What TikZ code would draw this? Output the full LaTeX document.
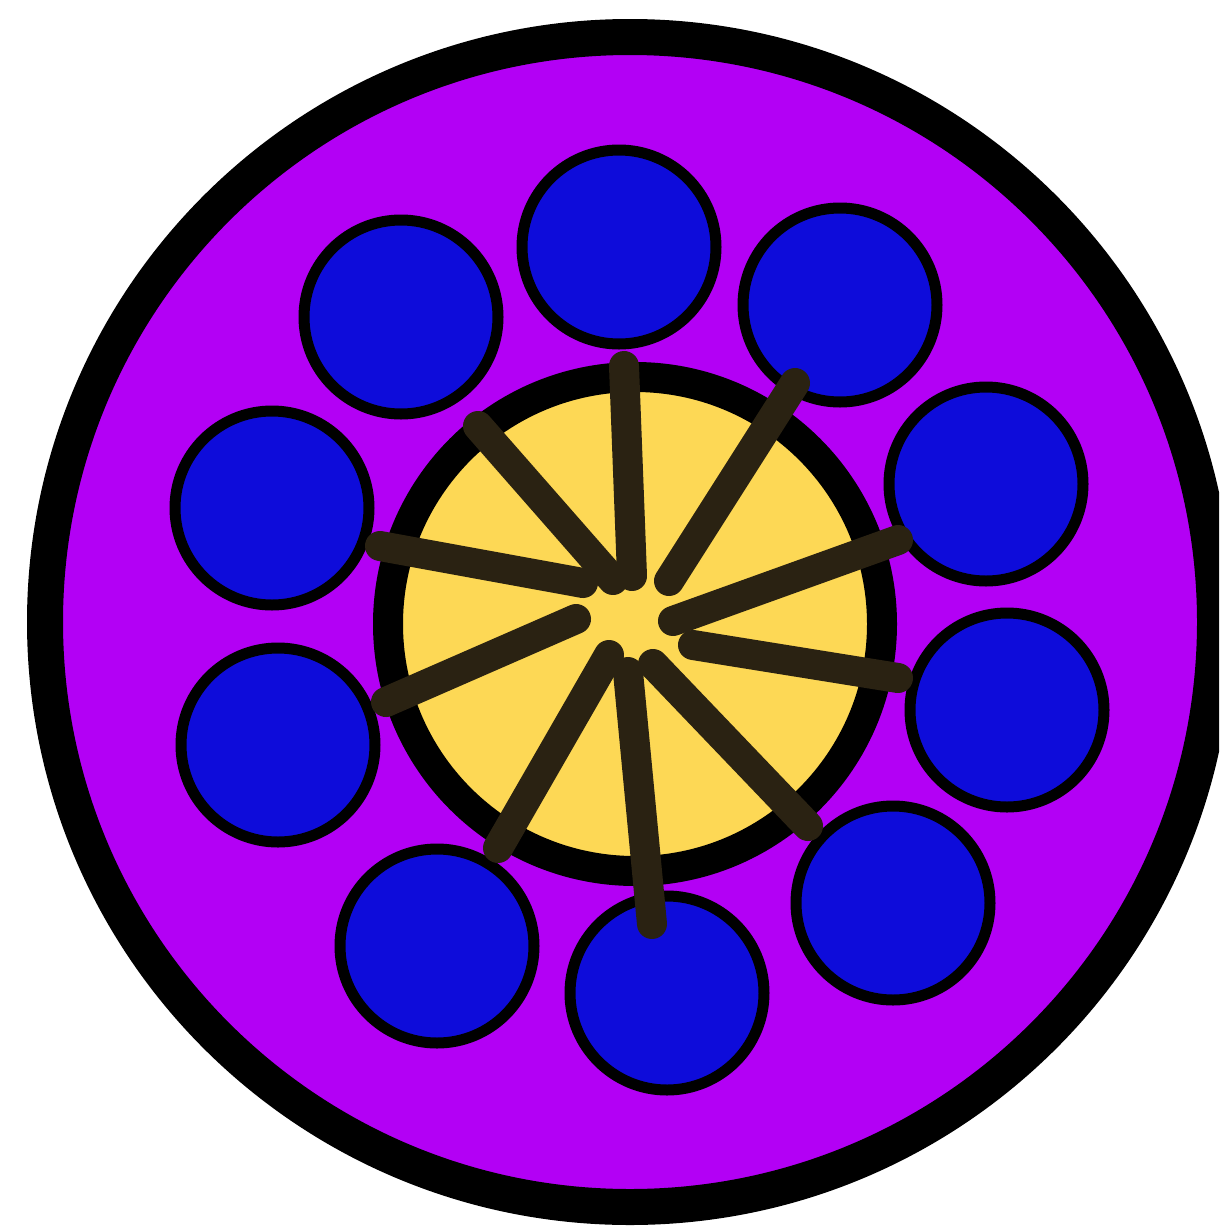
\documentclass[tikz,border=0pt]{standalone}
\usetikzlibrary{calc}
\definecolor{rimpurple}{HTML}{B300F5}
\definecolor{hubyellow}{HTML}{FDD855}
\definecolor{ballblue}{HTML}{0E0CDA}
\definecolor{spokebrown}{HTML}{2A2212}
\tikzset{
  rim/.style={circle, draw=black, fill=rimpurple, line width=36pt, minimum size=1170pt, inner sep=0pt},
  hub/.style={circle, draw=black, fill=hubyellow, line width=30pt, minimum size=494pt, inner sep=0pt},
  ball/.style={circle, draw=black, fill=ballblue, line width=11pt, minimum size=194pt, inner sep=0pt},
  spoke/.style={draw=spokebrown, line width=30pt, line cap=round}
}
\begin{document}
\begin{tikzpicture}[x=1pt,y=-1pt]
\useasboundingbox[fill=white] (0,0) rectangle (1219,1232);
\begin{scope}
\clip (0,0) rectangle (1219,1232);
\node[rim] (rim) at (630,622) {};
\end{scope}
\node[hub] (hub) at (635,624) {};
% blue balls
\node[ball] (b1) at (619,247) {};
\node[ball] (b2) at (840,305) {};
\node[ball] (b3) at (986,484) {};
\node[ball] (b4) at (1007,710) {};
\node[ball] (b5) at (893,903) {};
\node[ball] (b6) at (667,993) {};
\node[ball] (b7) at (437,946) {};
\node[ball] (b8) at (278,745) {};
\node[ball] (b9) at (272,508) {};
\node[ball] (b10) at (401,317) {};
% spoke ends
\coordinate (o1) at (624,366);
\coordinate (i1) at (632,576);
\coordinate (o2) at (795,383);
\coordinate (i2) at (669,581);
\coordinate (o3) at (898,540);
\coordinate (i3) at (673,621);
\coordinate (o4) at (898,678);
\coordinate (i4) at (693,645);
\coordinate (o5) at (808,826);
\coordinate (i5) at (653,664);
\coordinate (o6) at (652,924);
\coordinate (i6) at (628,672);
\coordinate (o7) at (498,848);
\coordinate (i7) at (609,655);
\coordinate (o8) at (386,702);
\coordinate (i8) at (576,619);
\coordinate (o9) at (380,546);
\coordinate (i9) at (583,583);
\coordinate (o10) at (478,426);
\coordinate (i10) at (613,580);
\foreach \k in {1,...,10} {
  \draw[spoke] (o\k) -- (i\k);
}
\end{tikzpicture}
\end{document}
